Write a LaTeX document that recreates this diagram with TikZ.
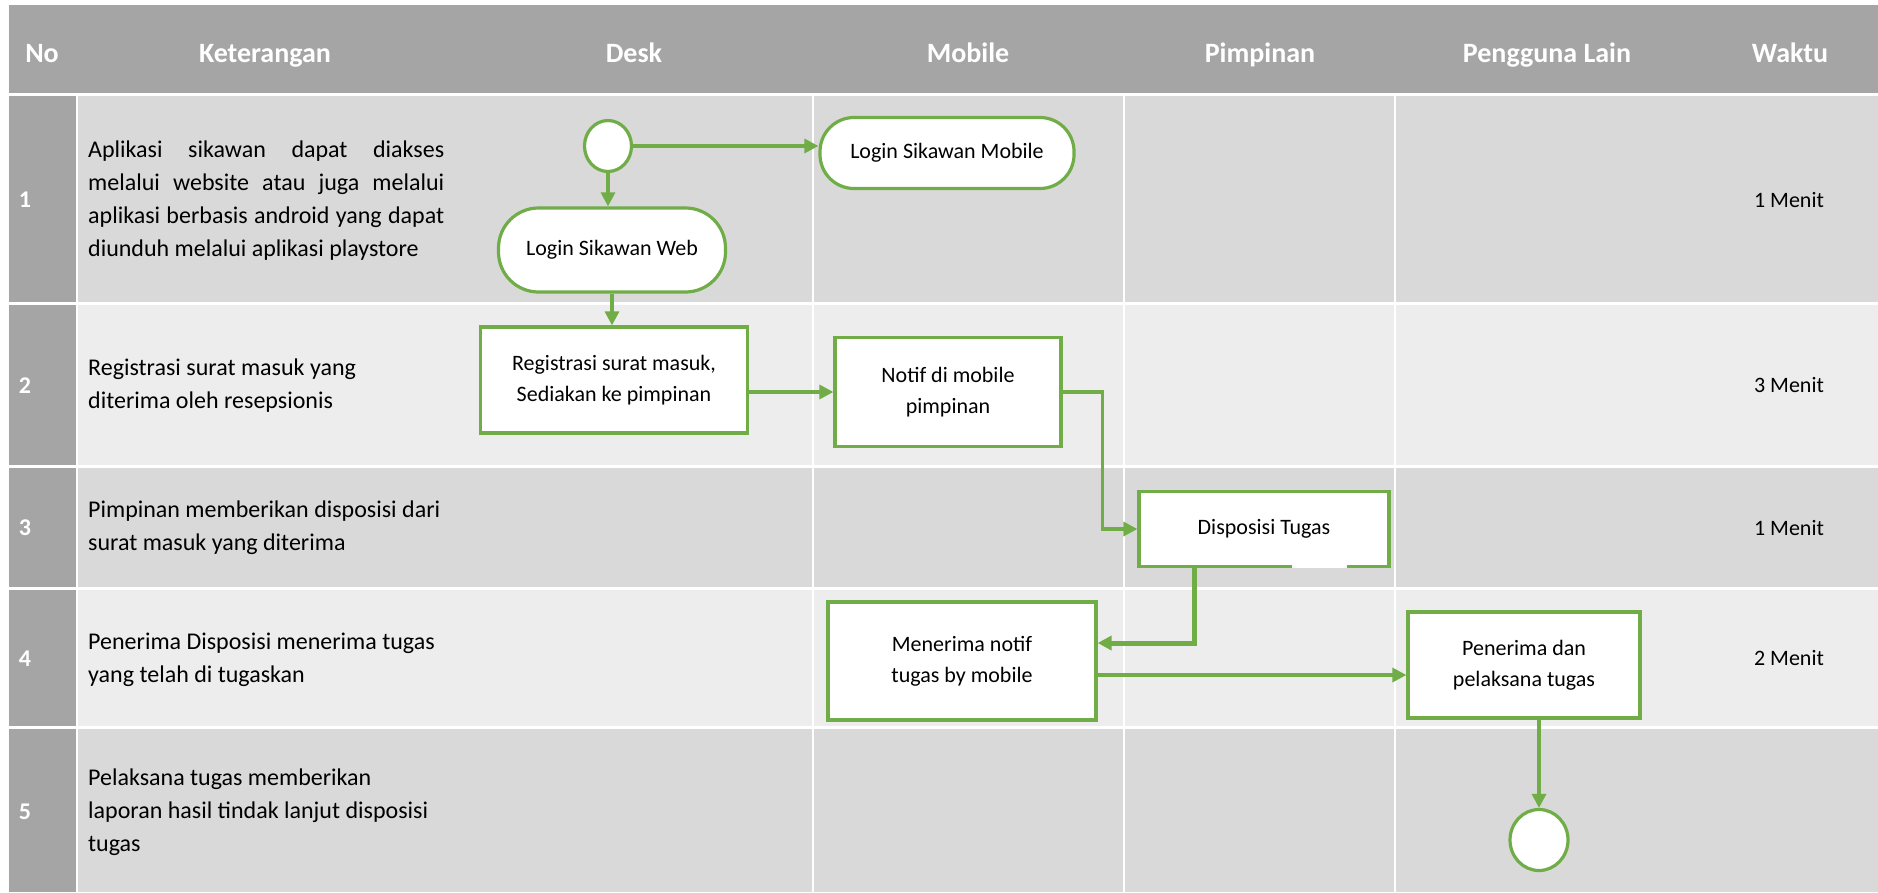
\documentclass[tikz,border=0pt]{standalone}
\usepackage{fontspec}
\setmainfont{Carlito}
\usetikzlibrary{shapes,arrows.meta,calc}

\definecolor{headgray}{HTML}{A5A5A5}
\definecolor{rowdark}{HTML}{D9D9D9}
\definecolor{rowlight}{HTML}{EDEDED}
\definecolor{flowgreen}{HTML}{70AD47}

\tikzset{
	box/.style = {draw = flowgreen, line width = 3.2pt, fill = white, align = center,
		inner sep = 0pt, font = \fontsize{22}{31}\selectfont},
	pill/.style = {box, rounded corners = #1},
	dot/.style = {ellipse, draw = flowgreen, line width = 3.2pt, fill = white, inner sep = 0pt},
	flow/.style = {draw = flowgreen, line width = 3.2pt, -{Triangle[length = 14pt, width = 14pt]}},
	hdr/.style = {anchor = base, text = white, font = \fontsize{28}{34}\selectfont\bfseries},
	num/.style = {text = white, font = \fontsize{24}{30}\selectfont\bfseries},
	desc/.style = {anchor = west, align = left, inner sep = 0pt, font = \fontsize{24}{33}\selectfont},
	wkt/.style = {font = \fontsize{22}{28}\selectfont}
}

\begin{document}
\begin{tikzpicture}[x = 1pt, y = -1pt]
\useasboundingbox (0,0) rectangle (1878,892);

% table
\fill [headgray] (9,5) rectangle (1878,94);
\foreach \ya/\yb/\c in {94/303/rowdark, 303/466/rowlight, 466/588/rowdark, 588/727/rowlight, 727/892/rowdark}
	\fill [\c] (77,\ya) rectangle (1878,\yb);
\fill [headgray] (9,94) rectangle (77,892);
\foreach \y in {94,303,466,588,727}
	\draw [white, line width = 3pt] (9,\y) -- (1878,\y);
\foreach \x in {77,813,1124,1395}
	\draw [white, line width = 2.5pt] (\x,94) -- (\x,892);

\foreach \x/\t in {42/No, 265/Keterangan, 634/Desk, 968/Mobile, 1260/Pimpinan, 1547/Pengguna Lain, 1790/Waktu}
	\node [hdr] (hd\x) at (\x,62) {\t};
\foreach \y/\n in {200/1, 386/2, 528/3, 659/4, 812/5}
	\node [num] (no\n) at (25,\y) {\n};
\foreach \y/\m in {200/1, 385/3, 528/1, 658/2}
	\node [wkt] (wk\y) at (1789,\y) {\m\ Menit};

\node [desc, text width = 356pt, align = justify] (ket1) at (88,201)
	{Aplikasi sikawan dapat diakses\linebreak melalui website atau juga melalui\linebreak
	 aplikasi berbasis android yang dapat\linebreak diunduh melalui aplikasi playstore};
\node [desc] (ket2) at (88,386) {Registrasi surat masuk yang\\diterima oleh resepsionis};
\node [desc] (ket3) at (88,528) {Pimpinan memberikan disposisi dari\\surat masuk yang diterima};
\node [desc] (ket4) at (88,660) {Penerima Disposisi menerima tugas\\yang telah di tugaskan};
\node [desc] (ket5) at (88,812) {Pelaksana tugas memberikan\\laporan hasil tindak lanjut disposisi\\tugas};

% flow
\node [dot, minimum width = 47pt, minimum height = 51pt] (start) at (608,146) {};
\node [pill = 34pt, minimum width = 254pt, minimum height = 71pt] (mobile) at (947,153) {Login Sikawan Mobile};
\node [pill = 40pt, minimum width = 227pt, minimum height = 84pt] (web) at (612,250) {Login Sikawan Web};
\node [box, minimum width = 267pt, minimum height = 106pt] (reg) at (614,380) {Registrasi surat masuk,\\Sediakan ke pimpinan};
\node [box, minimum width = 226pt, minimum height = 109pt] (notif) at (948,392) {Notif di mobile\\pimpinan};
\node [box, minimum width = 250pt, minimum height = 75pt] (disp) at (1264,529) {Disposisi Tugas};
\node [box, minimum width = 268pt, minimum height = 118pt] (terima) at (962,661) {Menerima notif\\tugas by mobile};
\node [box, minimum width = 232pt, minimum height = 106pt] (laksana) at (1524,665) {Penerima dan\\pelaksana tugas};
\node [dot, minimum width = 58pt, minimum height = 61pt] (end) at (1539,840) {};

\draw [flow] (start.east) -- (start.east -| mobile.west);
\draw [flow] (start.south) -- (start.south |- web.north);
\draw [flow] (web.south) -- (web.south |- reg.north);
\draw [flow] (notif.west -| reg.east) -- (notif.west);
\draw [flow] (notif.east) -- ++(40,0) |- (disp.west);
\draw [flow, line width = 5pt] ([xshift = -70pt]disp.south) |- ([yshift = 18pt]terima.east);
\coordinate (t2) at ([yshift = -14pt]terima.east);
\draw [flow] (t2) -- (t2 -| laksana.west);
\draw [flow] (end.north |- laksana.south) -- (end.north);
\draw [white, line width = 3.8pt] ([xshift = 28pt, yshift = 1.6pt]disp.south) -- ([xshift = 83pt, yshift = 1.6pt]disp.south);
\end{tikzpicture}
\end{document}
